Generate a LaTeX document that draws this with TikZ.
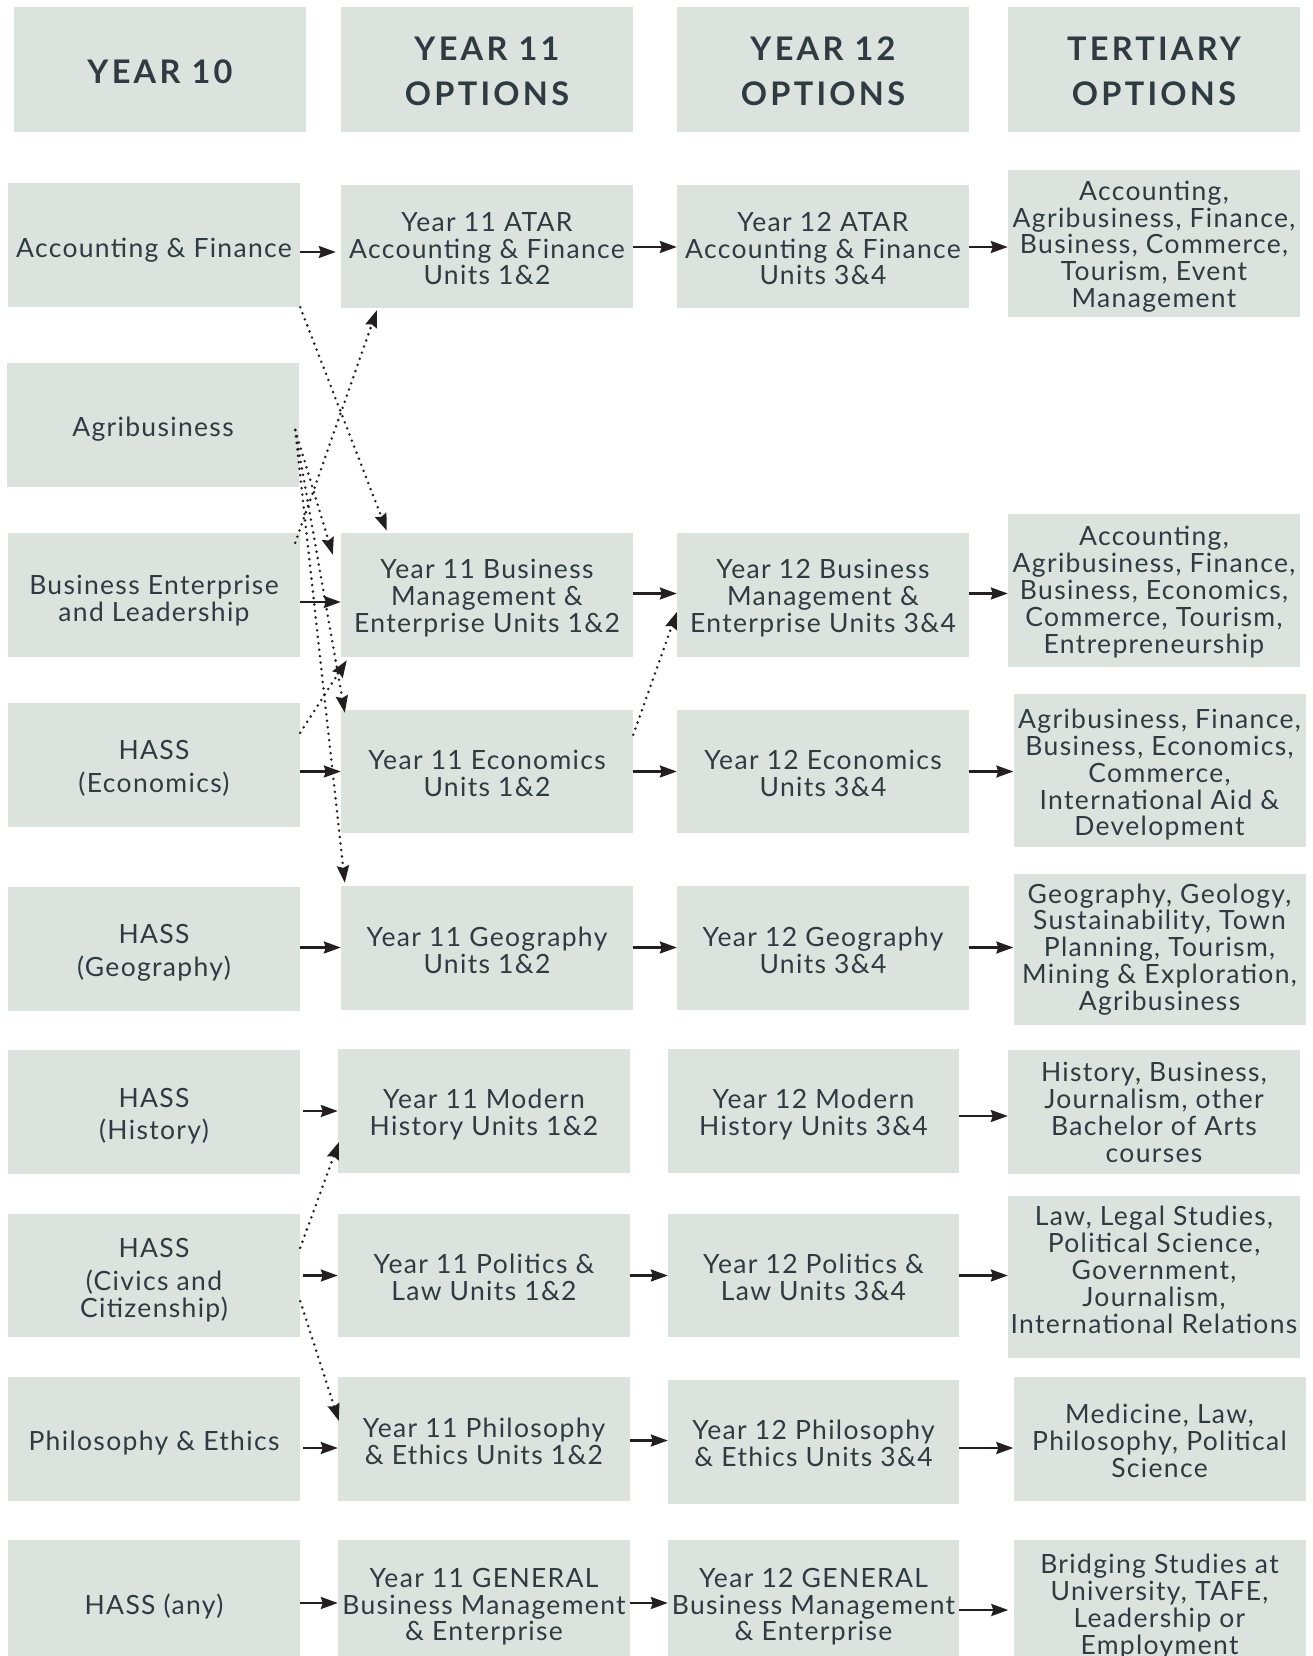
\documentclass[tikz,border=0pt]{standalone}
\usepackage{fontspec}
\setmainfont{Lato}
\newfontfamily\bodyfont{Lato}[LetterSpace=5]
\newfontfamily\headfont{Lato}[LetterSpace=10]
\usetikzlibrary{arrows.meta,calc}
\definecolor{boxfill}{HTML}{DCE3DF}
\definecolor{ink}{HTML}{2F3B40}
\definecolor{arrowc}{HTML}{231F20}
% \bx[box options]{name}{x}{y}{text shift}{text}
\newcommand\bx[6][]{\node[box,#1] (#2) at (#3,#4) {};
  \node[txt] (#2t) at ($(#2.center)+(0,#5)$) {#6};}
\newcommand\hbx[4]{\node[box, minimum height=125pt] (#1) at (#2,#3) {};
  \node[headtxt] (#1t) at ($(#1.center)+(0,2)$) {#4};}
\begin{document}
\begin{tikzpicture}[x=1pt,y=-1pt,
  box/.style={fill=boxfill, draw=none, inner sep=0pt,
    minimum width=292pt, minimum height=124pt},
  txt/.style={text=ink, inner sep=0pt, align=center,
    font=\bodyfont\fontsize{26.5}{26.9}\selectfont},
  headtxt/.style={txt, font=\headfont\bfseries\fontsize{32.5}{45}\selectfont},
  arr/.style={draw=arrowc, line width=2.2pt, -{Stealth[length=17pt,width=12pt,inset=2pt]}},
  dotarr/.style={arr, line width=2.8pt, line cap=round, dash pattern=on 0pt off 6.5pt}]
\useasboundingbox (0,0) rectangle (1313,1656);
\clip (0,0) rectangle (1313,1656);
% headers
\hbx{hd1}{160}{69.7}{YEAR 10}
\hbx{hd2}{487}{69.7}{YEAR 11\\OPTIONS}
\hbx{hd3}{823}{69.7}{YEAR 12\\OPTIONS}
\hbx{hd4}{1154}{69.7}{TERTIARY\\OPTIONS}
% row A
\bx{a1}{154}{245}{5.3}{Accounting \& Finance}
\bx[minimum height=123pt]{a2}{487}{246.5}{2.1}{Year 11 ATAR\\Accounting \& Finance\\Units 1\&2}
\bx[minimum height=123pt]{a3}{823}{246.5}{2.1}{Year 12 ATAR\\Accounting \& Finance\\Units 3\&4}
\bx[minimum height=147pt]{a4}{1154}{243.5}{3.2}{Accounting,\\Agribusiness, Finance,\\Business, Commerce,\\Tourism, Event\\Management}
% row B
\bx{b1}{153}{425}{4.2}{Agribusiness}
% row C
\bx{c1}{154}{595}{5.3}{Business Enterprise\\and Leadership}
\bx{c2}{487}{595}{3.2}{Year 11 Business\\Management \&\\Enterprise Units 1\&2}
\bx{c3}{823}{595}{3.2}{Year 12 Business\\Management \&\\Enterprise Units 3\&4}
\bx[minimum height=153pt]{c4}{1154}{590.5}{1.6}{Accounting,\\Agribusiness, Finance,\\Business, Economics,\\Commerce, Tourism,\\Entrepreneurship}
% row D
\bx{d1}{154}{765}{3.7}{HASS\\[6pt](Economics)}
\bx[minimum height=123pt]{d2}{487}{771.5}{2.1}{Year 11 Economics\\Units 1\&2}
\bx[minimum height=123pt]{d3}{823}{771.5}{2.1}{Year 12 Economics\\Units 3\&4}
\bx[minimum height=153pt]{d4}{1159.5}{770.5}{4.2}{Agribusiness, Finance,\\Business, Economics,\\Commerce,\\International Aid \&\\Development}
% row E
\bx{e1}{154}{948.5}{4.2}{HASS\\[6pt](Geography)}
\bx{e2}{487}{948}{2.1}{Year 11 Geography\\Units 1\&2}
\bx{e3}{823}{948}{2.1}{Year 12 Geography\\Units 3\&4}
\bx[minimum height=151pt]{e4}{1159.5}{949.5}{0}{Geography, Geology,\\Sustainability, Town\\Planning, Tourism,\\Mining \& Exploration,\\Agribusiness}
% row F
\bx{f1}{154}{1112}{4.2}{HASS\\[5pt](History)}
\bx{f2}{484}{1111}{3.2}{Year 11 Modern\\History Units 1\&2}
\bx[minimum width=291pt]{f3}{813.5}{1111}{3.2}{Year 12 Modern\\History Units 3\&4}
\bx{f4}{1154}{1111.5}{1}{History, Business,\\Journalism, other\\Bachelor of Arts\\courses}
% row G
\bx[minimum height=123pt]{g1}{154}{1275.5}{4.7}{HASS\\[6pt](Civics and\\Citizenship)}
\bx[minimum height=123pt]{g2}{484}{1275.5}{2.1}{Year 11 Politics \&\\Law Units 1\&2}
\bx[minimum height=123pt, minimum width=291pt]{g3}{813.5}{1275.5}{2.1}{Year 12 Politics \&\\Law Units 3\&4}
\bx[minimum height=162pt]{g4}{1154}{1277}{-7}{Law, Legal Studies,\\Political Science,\\Government,\\Journalism,\\International Relations}
% row P
\bx{p1}{154}{1439}{4.2}{Philosophy \& Ethics}
\bx{p2}{484}{1439}{2.1}{Year 11 Philosophy\\\& Ethics Units 1\&2}
\bx[minimum width=291pt]{p3}{813.5}{1441.5}{1.6}{Year 12 Philosophy\\\& Ethics Units 3\&4}
\bx{p4}{1159.5}{1439}{2.1}{Medicine, Law,\\Philosophy, Political\\Science}
% row Q
\bx{q1}{154}{1602}{4.2}{HASS (any)}
\bx{q2}{484}{1602}{4.7}{Year 11 GENERAL\\Business Management\\\& Enterprise}
\bx[minimum width=291pt]{q3}{813.5}{1602}{4.7}{Year 12 GENERAL\\Business Management\\\& Enterprise}
\bx{q4}{1159.5}{1602}{4.2}{Bridging Studies at\\University, TAFE,\\Leadership or\\Employment}
% solid arrows
\draw[arr, shorten >=5pt] (a1.east |- 0,252) -- (a2.west |- 0,252);
\draw[arr] (a2.east |- 0,247) -- (a3.west |- 0,247);
\draw[arr] (a3.east |- 0,247) -- (a4.west |- 0,247);
\draw[arr] (c1.east |- 0,602) -- (c2.west |- 0,602);
\draw[arr] (c2.east |- 0,593.5) -- (c3.west |- 0,593.5);
\draw[arr] (c3.east |- 0,593.5) -- (c4.west |- 0,593.5);
\draw[arr] (d1.east |- 0,771.5) -- (d2.west |- 0,771.5);
\draw[arr] (d2.east |- 0,771.5) -- (d3.west |- 0,771.5);
\draw[arr] (d3.east |- 0,771.5) -- (d4.west |- 0,771.5);
\draw[arr] (e1.east |- 0,947.5) -- (e2.west |- 0,947.5);
\draw[arr] (e2.east |- 0,947.5) -- (e3.west |- 0,947.5);
\draw[arr] (e3.east |- 0,947.5) -- (e4.west |- 0,947.5);
\draw[arr, shorten <=3pt] (f1.east |- 0,1111) -- (f2.west |- 0,1111);
\draw[arr] (f3.east |- 0,1116) -- (f4.west |- 0,1116);
\draw[arr, shorten <=3pt] (g1.east |- 0,1275.5) -- (g2.west |- 0,1275.5);
\draw[arr] (g2.east |- 0,1275.5) -- (g3.west |- 0,1275.5);
\draw[arr] (g3.east |- 0,1275.5) -- (g4.west |- 0,1275.5);
\draw[arr, shorten <=3pt] (p1.east |- 0,1448) -- (p2.west |- 0,1448);
\draw[arr] (p2.east |- 0,1440.5) -- (p3.west |- 0,1440.5);
\draw[arr] (p3.east |- 0,1448) -- (p4.west |- 0,1448);
\draw[arr] (q1.east |- 0,1603) -- (q2.west |- 0,1603);
\draw[arr] (q2.east |- 0,1603) -- (q3.west |- 0,1603);
\draw[arr, shorten >=5pt] (q3.east |- 0,1610) -- (q4.west |- 0,1610);
% dotted arrows
\draw[dotarr] (a1.south east) -- ($(c2.north west)+(46,-2)$);
\draw[dotarr] ($(c1.north east)+(-5,10)$) -- ($(a2.south west)+(36,2)$);
\draw[dotarr] ($(b1.east)+(-4,5)$) -- ($(c2.north west)+(-8,22)$);
\draw[dotarr] ($(b1.east)+(-4,5)$) -- ($(d2.north west)+(4,3)$);
\draw[dotarr] ($(b1.east)+(-4,5)$) -- ($(e2.north west)+(4,-3)$);
\draw[dotarr] ($(d1.north east)+(0,30)$) -- ($(c2.south west)+(6,3)$);
\draw[dotarr] ($(d2.north east)+(0,25)$) -- ($(c3.west)+(0,17)$);
\draw[dotarr] ($(g1.north east)+(0,34)$) -- ($(f2.south west)+(1,-31)$);
\draw[dotarr] ($(g1.south east)+(0,-36)$) -- ($(p2.north west)+(1,44)$);
\end{tikzpicture}
\end{document}
